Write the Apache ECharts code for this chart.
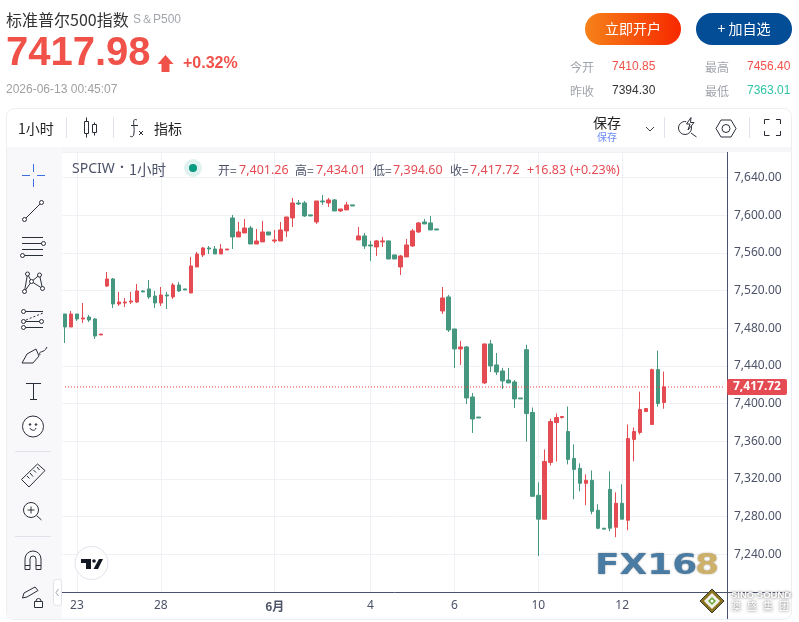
<!DOCTYPE html>
<html><head><meta charset="utf-8">
<style>html,body{margin:0;padding:0;background:#fff}#c{width:799px;height:622px}</style>
<script src="https://cdn.jsdelivr.net/npm/echarts@6/dist/echarts.min.js"></script>
</head><body><div id="c"></div>
<script>
const categories = [
 '','','23','','','','','','','',
 '','','','','','','28','','','',
 '','','','','','','','','','',
 '','','','','','6月','','','','',
 '','','','','','','','','','',
 '','4','','','','','','','','',
 '','','','','','6','','','','',
 '','','','','','','','','','10',
 '','','','','','','','','','',
 '','','','12','','','','','','',
 '','','','','','','','','','',''];
const opens = [7495.2,7481.4,7495.2,7489.9,7492,7489.9,7472.9,7524.9,7532.4,7505.8,
 7506.9,7507.9,7507.9,7519.6,7521.8,7514.3,7506.9,7515.4,7513.3,7526,
 7521.8,7517.5,7545.1,7557.9,7565.3,7564.2,7558.9,7563.2,7597.2,7577,
 7581.2,7586.5,7569.5,7571.7,7582.3,7572.7,7572.7,7583.4,7597.2,7613.1,
 7613.1,7600.4,7592.9,7615.2,7613.1,7616.3,7604.6,7605.7,7611,7573.8,
 7578.1,7568.5,7566.4,7571.7,7572.8,7557.9,7545.1,7555.8,7567.4,7582.3,
 7592.9,7591.9,7585.5,7498.4,7513.3,7479.3,7458.1,7460.2,7407.1,7385.8,
 7422,7463.4,7441.1,7434.7,7425.1,7423,7406,7457.3,7390.6,7302.7,
 7277.3,7337.6,7380,7385.3,7370.4,7341.8,7331.3,7315.4,7318.6,7286.8,
 7267.7,7309,7268.8,7294.2,7276.2,7362,7369.4,7391.6,7377.9,7436.1,7401.26];
const closes = [7481.4,7495.2,7489.9,7491,7488.8,7471.8,7473.9,7532.4,7505.8,7507.9,
 7507.9,7509,7519.6,7518.6,7513.3,7506.9,7515.4,7514.3,7526,7519.6,
 7520.7,7546.2,7558.9,7565.3,7564.2,7558.9,7564.2,7564.2,7577,7582.3,
 7586.5,7569.5,7572.7,7582.3,7579.1,7573.8,7584.4,7598.2,7613.1,7612,
 7599.3,7599.3,7615.2,7614.2,7616.3,7604.6,7606.7,7611,7609.9,7578.1,
 7567.4,7567.4,7572.8,7572.8,7553.6,7553.6,7556.8,7568.5,7583.4,7591.9,
 7590.8,7584.4,7584.4,7512.2,7478.2,7458.1,7460.2,7406,7383.7,7384.8,
 7463.4,7440,7433.6,7424.1,7422,7405,7405,7389.5,7301.6,7277.3,
 7338.7,7381,7385.3,7386.3,7340.8,7330.2,7315.4,7318.6,7285.7,7267.7,
 7266.7,7267.7,7294.2,7277.3,7363,7370.4,7393.7,7394.8,7436.1,7400.1,7417.72];
const lows = [7464.4,7481.4,7487.8,7485.7,7486.7,7468.7,7472.9,7523.9,7501.6,7503.7,
 7502.6,7505.8,7506.9,7518.6,7511.1,7501.6,7503.7,7500.5,7511.1,7518.6,
 7520.7,7517.5,7545.1,7555.7,7558.9,7558.9,7558.9,7563.2,7564.2,7577,
 7581.2,7569.5,7569.5,7571.7,7579.1,7570.6,7572.7,7577,7587.6,7611,
 7598.2,7599.3,7590.8,7611,7608.8,7604.6,7603.5,7605.7,7609.9,7573.8,
 7564.3,7551.5,7556.8,7566.4,7553.6,7553.6,7536.6,7555.8,7566.4,7581.3,
 7590.8,7584.4,7584.4,7495.2,7476.1,7437.9,7441.1,7399.6,7368.9,7384.8,
 7420.9,7433.6,7430.4,7415.6,7422,7395.4,7405,7359.8,7301.6,7238.1,
 7277.3,7334.4,7338.7,7384.2,7335.5,7298.4,7306.9,7292.1,7282.5,7266.7,
 7266.7,7264.5,7258.2,7277.3,7265.6,7338.7,7367.3,7391.6,7377.9,7396.9,7394.6];
const highs = [7495.2,7498.4,7495.2,7506.9,7494.2,7491,7473.9,7539.8,7533.4,7518.6,
 7512.2,7518.6,7527.1,7520.7,7531.3,7519.6,7523.9,7518.6,7528.1,7529.2,
 7521.8,7555.7,7561.1,7566.4,7567.4,7567.4,7569.5,7564.2,7600.4,7592.9,
 7596.1,7588.7,7585.5,7594,7582.3,7584.4,7592.9,7598.2,7618.4,7616.3,
 7615.2,7600.4,7615.2,7621.6,7618.4,7617.3,7606.7,7614.2,7611,7587.6,
 7581.3,7572.8,7573.8,7577,7572.8,7557.9,7557.9,7574.9,7585.5,7592.9,
 7596.1,7599.3,7585.5,7523.9,7515.4,7479.3,7466.6,7461.2,7411.3,7385.8,
 7463.4,7467.6,7453.8,7437.9,7437.9,7425.1,7406,7462.6,7395.9,7316.4,
 7351.4,7384.2,7389.5,7386.3,7396.9,7356.7,7336.6,7324.9,7329.1,7293.1,
 7267.7,7328.1,7305.8,7314.3,7377.9,7374.7,7412.8,7394.8,7437.2,7456.2,7434.01];
const lastClose = 7417.72;
const lastCloseLabel = '7,417.72';

const CJK = '"Noto Sans CJK SC","Noto Sans",sans-serif';
const ARIAL = '"Liberation Sans",Arial,sans-serif';
const NOTO = '"Noto Sans","Noto Sans CJK SC",sans-serif';
const RED='#e54b52', GREEN='#45977f', ICON='#2a2e39';
const gfx=[];
const Z=20;
const T=(x,y,text,font,fill,align)=>gfx.push({type:'text',z:Z,silent:true,style:{x,y,text,font,fill,align:align||'left',verticalAlign:'middle'}});
const L=(pts,color,w,dash)=>gfx.push({type:'polyline',z:Z,silent:true,shape:{points:pts},style:{stroke:color||ICON,lineWidth:w||1,fill:null,lineDash:dash||null}});
const C=(cx,cy,r,color,fill,w)=>gfx.push({type:'circle',z:Z,silent:true,shape:{cx,cy,r},style:{stroke:color||ICON,lineWidth:w==null?1:w,fill:fill||'#fff'}});
const R=(x,y,width,height,r,fill,stroke,w,z)=>gfx.push({type:'rect',z:z==null?Z:z,silent:true,shape:{x,y,width,height,r},style:{fill,stroke:stroke||null,lineWidth:w||0}});
const P=(pts,fill,stroke,w)=>gfx.push({type:'polygon',z:Z,silent:true,shape:{points:pts},style:{fill:fill||null,stroke:stroke||null,lineWidth:w||0}});
const A=(cx,cy,r,s,e,color,w)=>gfx.push({type:'arc',z:Z,silent:true,shape:{cx,cy,r,startAngle:s,endAngle:e,clockwise:true},style:{stroke:color||ICON,lineWidth:w||1,fill:null}});

// header
T(6,20,'标准普尔500指数','16px '+CJK,'#333');
T(133,20,'S＆P500','12px '+ARIAL,'#a2a6ad');
T(6,54,'7417.98','bold 40px '+ARIAL,'#f0524a');
P([[165.5,55],[173.5,64],[169.5,64],[169.5,72],[161.5,72],[161.5,64],[157.5,64]],'#f0524a');
T(183,64,'+0.32%','bold 16px '+ARIAL,'#f0524a');
T(6,90,'2026-06-13 00:45:07','12px '+ARIAL,'#a0a0a0');
// buttons
gfx.push({type:'rect',z:Z,silent:true,shape:{x:585,y:13,width:96,height:32,r:16},style:{fill:new echarts.graphic.LinearGradient(0,0,1,0,[{offset:0,color:'#f68219'},{offset:1,color:'#f72800'}])}});
T(633,29,'立即开户','14px '+CJK,'#fff','center');
R(696,13,96,32,16,'#034c96');
T(744,29,'+ 加自选','14px '+CJK,'#fff','center');
// stats
T(570,67,'今开','12px '+CJK,'#a0a4ab');
T(612,67,'7410.85','12px '+ARIAL,'#f0524a');
T(705,67,'最高','12px '+CJK,'#a0a4ab');
T(747,67,'7456.40','12px '+ARIAL,'#f0524a');
T(570,91,'昨收','12px '+CJK,'#a0a4ab');
T(612,91,'7394.30','12px '+ARIAL,'#333');
T(705,91,'最低','12px '+CJK,'#a0a4ab');
T(747,91,'7363.01','12px '+ARIAL,'#2fc4a6');
// panel frame
R(6.5,108.5,785,511,8,'#fff','#eceef2',1,0);
R(7,147,784,5,0,'#f6f6f8',null,0,1);
R(7,147,55,472,0,'#f8f8fa',null,0,1);
// toolbar
T(18,129,'1小时','14px '+CJK,'#222');
L([[66.5,117],[66.5,138]],'#e0e3eb');
L([[113.5,117],[113.5,138]],'#e0e3eb');
L([[86.5,117.5],[86.5,137.5]]);R(84.5,121.5,4,12,0,'#fff',ICON,1);
L([[94.5,122.5],[94.5,135.5]]);R(92.5,124.5,4,8,0,'#fff',ICON,1);
gfx.push({type:'bezierCurve',z:Z,silent:true,shape:{x1:137,y1:120,cpx1:131,cpy1:117,cpx2:135,cpy2:128,x2:134,y2:132},style:{stroke:ICON,fill:null,lineWidth:1}});
gfx.push({type:'bezierCurve',z:Z,silent:true,shape:{x1:134,y1:132,cpx1:134,cpy1:138,cpx2:131,cpy2:137,x2:130,y2:136},style:{stroke:ICON,fill:null,lineWidth:1}});
L([[131,125.5],[138,125.5]]);
L([[139,131],[143,135]],ICON,1);L([[143,131],[139,135]],ICON,1);
T(154,129,'指标','14px '+CJK,'#222');
T(607,123,'保存','14px '+CJK,'#222','center');
T(607,137,'保存','10px '+CJK,'#6d8cf5','center');
L([[646,127],[650,131],[654,127]],'#444');
L([[664.5,117],[664.5,138]],'#e0e3eb');
A(685,128,6.5,-0.4,4.9);
P([[691,117.5],[686.5,124],[690,124],[688,130],[694,122.5],[690.5,122.5]],'#fff',ICON,1);
L([[691,133],[696.5,137]]);
P([[716,128.5],[721,120],[731,120],[736,128.5],[731,137],[721,137]],null,ICON,1);
C(726,128.5,4);
L([[749.5,117],[749.5,138]],'#e0e3eb');
L([[764.5,124],[764.5,119.5],[769.5,119.5]]);L([[776,119.5],[780.5,119.5],[780.5,124]]);
L([[764.5,131],[764.5,135.5],[769.5,135.5]]);L([[776,135.5],[780.5,135.5],[780.5,131]]);
// legend line
T(72,169,'SPCIW','14px '+NOTO,'#4c5268');
T(120,168,'·','bold 14px '+NOTO,'#4c5268');
T(129,169,'1小时','14.5px '+CJK,'#4c5268');
gfx.push({type:'circle',z:Z,silent:true,shape:{cx:193,cy:168,r:9},style:{fill:'rgba(8,153,129,0.13)'}});
gfx.push({type:'circle',z:Z,silent:true,shape:{cx:193,cy:168,r:4},style:{fill:'#089981'}});
const lg=[[218,'开='],[295,'高='],[373,'低='],[450,'收=']], lv=[[239,'7,401.26'],[316,'7,434.01'],[393,'7,394.60'],[470,'7,417.72'],[527,'+16.83'],[570,'(+0.23%)']];
lg.forEach(a=>T(a[0],170,a[1],'12px '+CJK,'#4c5268'));
lv.forEach(a=>T(a[0],170,a[1],'12.5px '+NOTO,RED));
// left tools
L([[22,175.5],[30,175.5]],'#3b6fe0');L([[37,175.5],[45,175.5]],'#3b6fe0');L([[33.5,164],[33.5,172]],'#3b6fe0');L([[33.5,179],[33.5,187]],'#3b6fe0');
L([[24.5,219.5],[41.5,202.5]]);C(24.5,219.5,2);C(41.5,202.5,2);
[237.5,243.5,249.5,255.5].forEach(y=>L([[22,y],[43,y]]));C(43.5,243.5,2);C(22.5,255.5,2);
const pat=[[27.5,274],[39.5,275],[31.5,281.5],[42.5,288.5],[24.5,291.5]];
L([pat[4],pat[0],pat[2],pat[1],pat[3],pat[2],pat[4]]);pat.forEach(p=>C(p[0],p[1],2));
[311.5,321.5,327.5].forEach(y=>L([[23,y],[43,y]]));
L([[26,320],[43,313]],ICON,1,[2,2]);
C(23.5,311.5,2);C(23.5,321.5,2);C(23.5,327.5,2);C(41.5,321.5,2);
L([[22,363],[27,354],[36,349],[39,356],[33,363],[22,363]]);gfx.push({type:'bezierCurve',z:Z,silent:true,shape:{x1:40,y1:355,cpx1:38,cpy1:350,cpx2:44,cpy2:354,x2:47,y2:347},style:{stroke:ICON,fill:null}});
L([[26,383.5],[41,383.5]]);L([[33.5,383.5],[33.5,399.5]]);L([[30,399.5],[37,399.5]]);
C(33,426.5,10.5);C(30,424.5,0.8,ICON,ICON);C(36,424.5,0.8,ICON,ICON);A(33,427,3.2,0.3,2.84);
L([[15,451.5],[51,451.5]],'#e0e3eb');
P([[21.5,479.5],[37.5,464],[45,470.5],[29,487]],null,ICON,1);
[[27,476,29.5,478.5],[30,473,33,476.5],[33.5,470,36,472.5],[37,467,39.5,470]].forEach(a=>L([[a[0],a[1]],[a[2],a[3]]]));
C(31,510,7.5);L([[27.5,510],[34.5,510]]);L([[31,506.5],[31,513.5]]);L([[36.5,515.5],[41.5,520]]);
L([[15,536.5],[51,536.5]],'#e0e3eb');
A(33,559,8,Math.PI,0);A(33,559,3,Math.PI,0);
L([[25,559],[25,569.5],[30,569.5],[30,559]]);L([[36,559],[36,569.5],[41,569.5],[41,559]]);L([[25,565.5],[30,565.5]]);L([[36,565.5],[41,565.5]]);
P([[22.5,598],[24,593],[35,587],[38,590.5],[27,597]],null,ICON,1);
R(34.5,601.5,8,6,0,'#fff',ICON,1);A(38.5,601,2.5,Math.PI,0);
R(53.5,579.5,8,26,3,'#fff','#e0e3eb',1);L([[58.5,589],[56,592.5],[58.5,596]],'#a0a4ab');
// TV badge
C(91.5,563,16.5,'#e0e3eb','#fff');
P([[81,559],[91,559],[91,569],[86,569],[86,563],[81,563]],'#131722');
C(94,561,1.8,null,'#131722',0);
P([[99,559],[103,559],[98,569],[93.5,569]],'#131722');
// FX168 mark
const fxFont='bold 29px "DejaVu Sans"';
gfx.push({type:'text',z:Z,silent:true,x:595,y:566,scaleX:1.24,style:{x:0,y:0,text:'FX16',font:fxFont,fill:'#4a7ba2',align:'left',verticalAlign:'middle',textShadowColor:'rgba(0,0,0,.35)',textShadowBlur:2}});
gfx.push({type:'text',z:Z,silent:true,x:695,y:566,scaleX:1.2,style:{x:0,y:0,text:'8',font:fxFont,fill:'#cdb069',align:'left',verticalAlign:'middle',textShadowColor:'rgba(0,0,0,.35)',textShadowBlur:2}});
// axis extensions
L([[727.5,592],[727.5,619]],'#4a5270');
L([[727,592.5],[790,592.5]],'#4a5270');
// sino sound logo
P([[712,589],[724,601],[712,613],[700,601]],'#8a7320','#3a3a30',1);
P([[712,593],[720,601],[712,609],[704,601]],'#f2f2e8');
P([[712,597],[716,601],[712,605],[708,601]],'#6aaa3a');
C(712,601,1.5,null,'#fff',0);
const shadowT=(x,y,text,font,fill)=>gfx.push({type:'text',z:Z,silent:true,style:{x,y,text,font,fill,align:'left',verticalAlign:'middle',textShadowColor:'#555',textShadowBlur:3}});
shadowT(731,595,'SINO SOUND','bold 9.5px '+ARIAL,'#fff');
shadowT(731,606,'澳','10px '+CJK,'#fff');shadowT(747,606,'盛','10px '+CJK,'#fff');shadowT(763,606,'集','10px '+CJK,'#fff');shadowT(779,606,'团','10px '+CJK,'#fff');

const chart=echarts.init(document.getElementById('c'));
const tickShown=(i,v)=>v!=='';
chart.setOption({
 animation:false,
 backgroundColor:'#fff',
 grid:{left:62,top:152,width:665,height:440,containLabel:false},
 xAxis:{type:'category',data:categories,boundaryGap:true,
  axisLine:{show:true,lineStyle:{color:'#4a5270',width:1}},
  axisTick:{show:false},
  axisLabel:{interval:tickShown,margin:8,fontSize:12,fontFamily:NOTO,color:'#4c5268',
   formatter:v=>v==='6月'?'{b|6月}':v,rich:{b:{fontWeight:'bold',fontSize:12,fontFamily:CJK,color:'#4c5268'}}},
  splitLine:{show:true,interval:tickShown,alignWithLabel:true,lineStyle:{color:'#f0f1f4',width:1}}},
 yAxis:{type:'value',position:'right',min:7200,max:7667.2,interval:40,scale:true,
  axisLine:{show:true,lineStyle:{color:'#4a5270',width:1}},
  axisTick:{show:false},
  axisLabel:{margin:7,fontSize:12,fontFamily:NOTO,color:'#4c5268',showMinLabel:false,showMaxLabel:false,
   formatter:v=>v.toLocaleString('en-US',{minimumFractionDigits:2,maximumFractionDigits:2})},
  splitLine:{show:true,lineStyle:{color:'#f0f1f4',width:1}}},
 graphic:gfx,
 series:[{type:'candlestick',barWidth:4,
  data:opens.map((o,i)=>[o,closes[i],lows[i],highs[i]]),
  itemStyle:{color:RED,color0:GREEN,borderColor:RED,borderColor0:GREEN,borderWidth:1}},
  {type:'line',silent:true,symbol:'none',z:3,data:categories.map(()=>lastClose),
   lineStyle:{type:[1,2],color:'#f0323c',width:1},itemStyle:{color:'#f0323c'},
   endLabel:{show:true,distance:3,formatter:lastCloseLabel,backgroundColor:RED,color:'#fff',fontSize:12,fontWeight:'bold',fontFamily:NOTO,padding:[2,6,2,6],borderRadius:2}}]
});
</script></body></html>
